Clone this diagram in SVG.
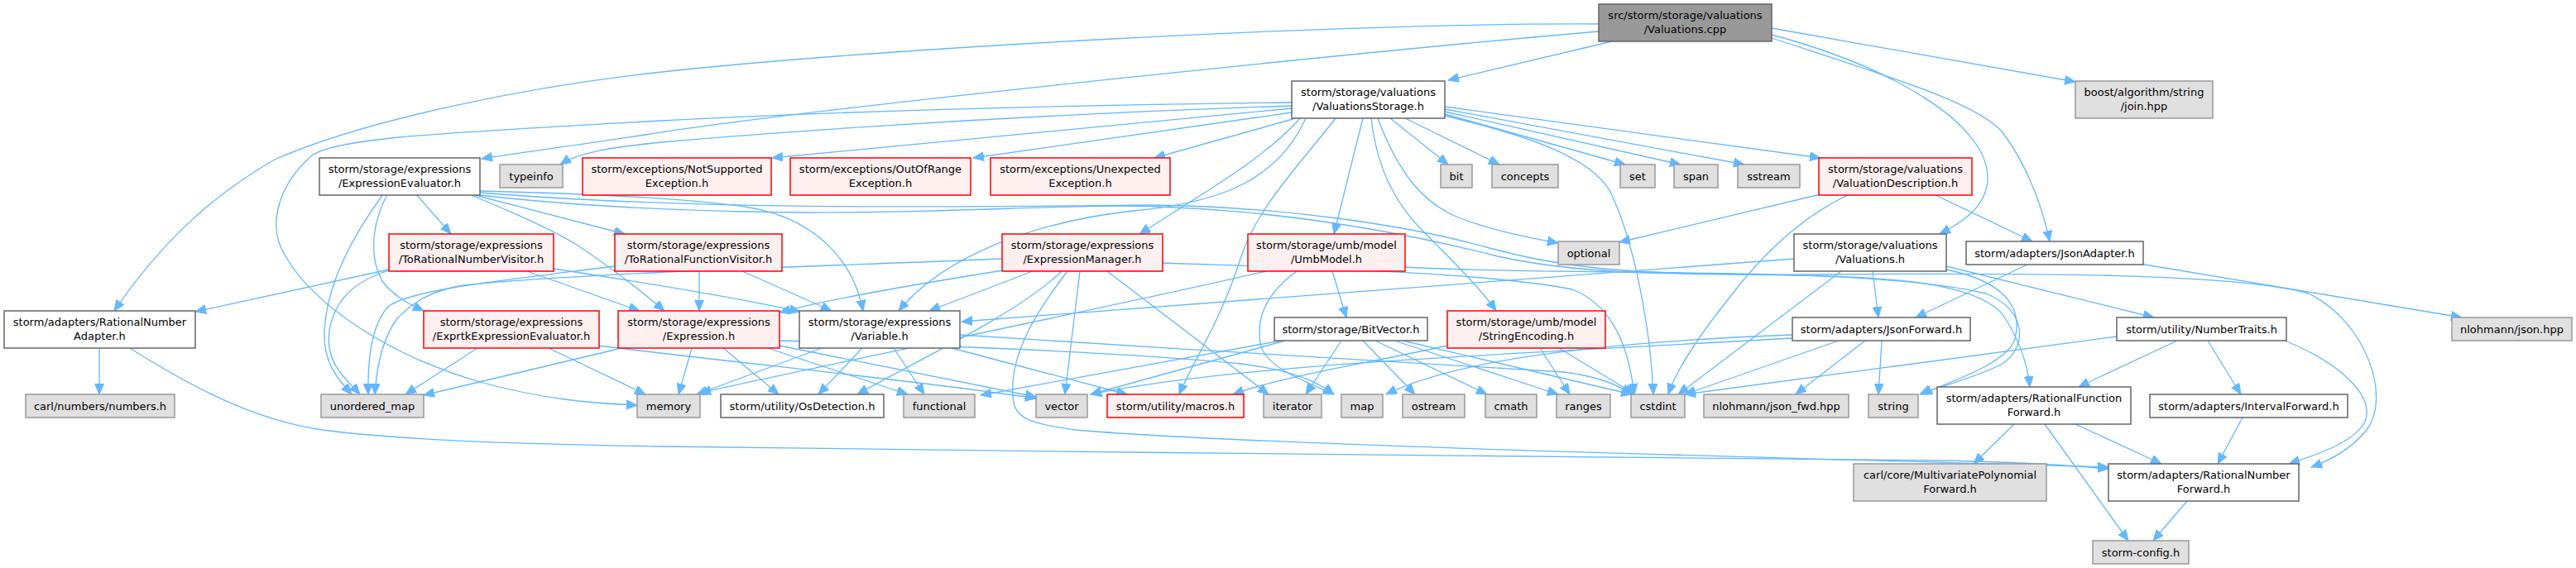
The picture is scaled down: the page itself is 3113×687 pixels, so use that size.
<svg xmlns="http://www.w3.org/2000/svg" width="3113" height="687" viewBox="0 0 3113 687">
<style>
text{font-family:"DejaVu Sans","Liberation Sans",sans-serif;font-size:13px;text-anchor:middle;fill:#000}
.w{fill:#fff;stroke:#666;stroke-width:1.5}
.g{fill:#e0e0e0;stroke:#999;stroke-width:1.5}
.r{fill:#fff0f0;stroke:#f00;stroke-width:1.5}
.m{fill:#999;stroke:#666;stroke-width:1.5}
#edges path{fill:none;stroke:#63b8ff;stroke-width:1.3;marker-end:url(#a)}
</style>
<defs>
<marker id="a" markerUnits="userSpaceOnUse" markerWidth="14" markerHeight="12" refX="13" refY="5.5" orient="auto"><path d="M0,0 L13,5.5 L0,11 z" fill="#63b8ff" stroke="#63b8ff" stroke-width="1"/></marker>
</defs>
<rect width="3113" height="687" fill="#fff"/>
<g id="edges">
<path d="M1948,50 L1750,97"/>
<path d="M1932,29 C1600,28 1050,60 800,87 C640,104 440,145 332,193 C250,240 190,300 138,376"/>
<path d="M1932,38 C1700,58 1000,128 780,163 C690,177 630,184 582,192"/>
<path d="M2141,34 L2508,99"/>
<path d="M2141,42 C2290,82 2400,150 2402,213 C2403,245 2378,266 2344,283"/>
<path d="M2141,46 C2290,95 2390,125 2420,160 C2450,200 2468,250 2477,292"/>
<path d="M1561,124 C1200,128 950,138 780,147 C560,160 410,165 377,188 C340,220 320,270 345,310 C380,370 470,430 580,462 C660,484 720,488 770,490"/>
<path d="M1561,128 C1200,140 900,163 800,172 C740,178 700,184 677,199"/>
<path d="M1561,131 L933,191"/>
<path d="M1561,136 L1176,191"/>
<path d="M1566,143 L1395,191"/>
<path d="M1571,143 C1530,190 1460,230 1377,283"/>
<path d="M1578,143 C1545,215 1480,245 1370,255 C1250,268 1140,310 1086,376"/>
<path d="M1614,143 C1570,200 1520,250 1500,310 C1475,390 1440,440 1425,477"/>
<path d="M1647,143 L1612,283"/>
<path d="M1657,143 C1665,210 1690,250 1720,280 C1760,320 1790,350 1808,376"/>
<path d="M1665,143 C1690,210 1720,245 1760,262 C1800,278 1845,287 1883,294"/>
<path d="M1680,143 L1750,199"/>
<path d="M1698,143 L1812,199"/>
<path d="M1746,138 L1964,199"/>
<path d="M1746,135 L2031,199"/>
<path d="M1746,132 L2108,199"/>
<path d="M1746,129 L2200,191"/>
<path d="M1746,140 C1850,165 1920,190 1945,230 C1975,290 1995,400 1998,477"/>
<path d="M2200,235 L1957,293"/>
<path d="M2235,235 C2170,265 2120,320 2090,360 C2050,410 2025,450 2016,477"/>
<path d="M2337,235 L2456,292"/>
<path d="M463,235 C430,280 395,340 392,400 C390,440 410,460 425,477"/>
<path d="M468,235 C450,270 445,310 462,340 C475,358 495,368 512,376"/>
<path d="M503,235 L545,283"/>
<path d="M567,235 C640,265 680,285 700,298 C740,325 775,352 803,376"/>
<path d="M570,235 L755,283"/>
<path d="M580,231 C700,234 830,240 900,250 C980,262 1030,310 1043,376"/>
<path d="M580,233 C850,255 1150,250 1392,248 C1550,250 1700,272 1800,300 C1880,322 1950,330 2100,332 C2250,334 2380,335 2420,380 C2440,410 2450,440 2453,468"/>
<path d="M580,236 C700,250 850,256 974,257 C1150,258 1300,246 1400,250 C1560,256 1700,282 1810,310 C1900,330 2000,333 2200,332 C2450,330 2700,330 2790,355 C2860,390 2890,480 2860,520 C2840,545 2815,557 2793,565"/>
<path d="M470,326 L236,377"/>
<path d="M470,327 C430,340 405,360 398,400 C392,440 420,460 435,477"/>
<path d="M637,328 L773,376"/>
<path d="M669,325 C780,342 900,362 967,377"/>
<path d="M845,328 L845,376"/>
<path d="M897,328 L1005,376"/>
<path d="M743,322 C600,340 500,350 470,370 C450,390 444,430 445,477"/>
<path d="M1212,327 C1100,345 1000,362 942,378"/>
<path d="M1248,328 L1123,376"/>
<path d="M1211,313 C1000,322 700,330 560,345 C520,352 500,365 480,385 C462,410 455,445 453,477"/>
<path d="M1283,328 C1230,380 1100,440 1036,477"/>
<path d="M1305,328 L1287,477"/>
<path d="M1338,328 L1533,477"/>
<path d="M1290,328 C1250,380 1220,430 1224,480 C1226,505 1240,512 1300,520 C1500,538 2200,555 2548,565"/>
<path d="M1405,318 C1600,325 1800,330 1900,350 C1950,370 1968,420 1975,477"/>
<path d="M1610,328 L1627,384"/>
<path d="M1567,328 C1530,355 1518,385 1523,415 C1528,445 1580,462 1612,477"/>
<path d="M1530,328 C1350,370 1050,430 846,475"/>
<path d="M1698,323 C1900,335 2250,320 2400,355 C2450,375 2450,420 2420,440 C2380,460 2340,468 2320,477"/>
<path d="M2168,313 L1162,389"/>
<path d="M2263,328 L2270,384"/>
<path d="M2225,328 L2028,477"/>
<path d="M2352,322 L2603,384"/>
<path d="M2352,326 C2420,340 2445,370 2435,410 C2425,440 2360,460 2322,477"/>
<path d="M2452,319 L2315,384"/>
<path d="M2586,319 L2975,384"/>
<path d="M120,421 L120,477"/>
<path d="M157,421 C250,480 320,510 390,520 C500,535 700,538 800,540 C1300,548 2000,552 2340,557 C2450,559 2500,563 2548,567"/>
<path d="M577,421 L490,477"/>
<path d="M663,421 L780,477"/>
<path d="M723,418 C900,440 1150,465 1252,482"/>
<path d="M747,422 L512,478"/>
<path d="M836,421 L820,477"/>
<path d="M874,421 L941,477"/>
<path d="M928,421 L1097,477"/>
<path d="M942,418 C1050,440 1180,465 1252,480"/>
<path d="M942,412 C1150,418 1370,427 1500,440 C1560,448 1590,460 1612,477"/>
<path d="M993,421 L842,477"/>
<path d="M1042,421 L989,477"/>
<path d="M1080,421 L1117,477"/>
<path d="M1150,421 L1362,477"/>
<path d="M1160,405 C1400,420 1700,440 1890,450 C1930,455 1955,465 1972,477"/>
<path d="M1621,412 L1578,477"/>
<path d="M1647,412 L1710,477"/>
<path d="M1662,412 L1797,477"/>
<path d="M1685,412 L1883,477"/>
<path d="M1695,412 L1972,477"/>
<path d="M1553,412 L1318,477"/>
<path d="M1548,412 L1185,478"/>
<path d="M1861,421 L1897,477"/>
<path d="M1884,421 L1976,477"/>
<path d="M1749,418 C1650,440 1550,455 1490,477"/>
<path d="M2222,412 L2036,477"/>
<path d="M2254,412 L2170,477"/>
<path d="M2274,412 L2270,477"/>
<path d="M2166,405 C1900,415 1750,440 1675,477"/>
<path d="M2166,409 C1800,430 1500,440 1318,477"/>
<path d="M2631,412 L2512,468"/>
<path d="M2668,412 L2708,477"/>
<path d="M2761,412 C2830,440 2870,480 2858,510 C2845,535 2800,550 2766,561"/>
<path d="M2558,407 L2036,477"/>
<path d="M2710,505 L2680,561"/>
<path d="M2434,513 L2385,561"/>
<path d="M2471,513 L2572,654"/>
<path d="M2508,513 L2612,561"/>
<path d="M2643,606 L2602,654"/>
</g>
<g id="n0"><rect class="m" x="1932" y="5" width="209" height="45"/><text x="2036.5" y="23">src/storm/storage/valuations</text><text x="2036.5" y="40">/Valuations.cpp</text></g>
<g id="n1"><rect class="w" x="1561" y="98" width="185" height="45"/><text x="1653.5" y="116">storm/storage/valuations</text><text x="1653.5" y="133">/ValuationsStorage.h</text></g>
<g id="n2"><rect class="g" x="2508" y="98" width="166" height="45"/><text x="2591" y="116">boost/algorithm/string</text><text x="2591" y="133">/join.hpp</text></g>
<g id="n3"><rect class="w" x="386" y="191" width="194" height="45"/><text x="483" y="209">storm/storage/expressions</text><text x="483" y="226">/ExpressionEvaluator.h</text></g>
<g id="n4"><rect class="g" x="604" y="199" width="76" height="28"/><text x="642" y="217.5">typeinfo</text></g>
<g id="n5"><rect class="r" x="704" y="191" width="228" height="45"/><text x="818" y="209">storm/exceptions/NotSupported</text><text x="818" y="226">Exception.h</text></g>
<g id="n6"><rect class="r" x="955" y="191" width="218" height="45"/><text x="1064" y="209">storm/exceptions/OutOfRange</text><text x="1064" y="226">Exception.h</text></g>
<g id="n7"><rect class="r" x="1197" y="191" width="217" height="45"/><text x="1305.5" y="209">storm/exceptions/Unexpected</text><text x="1305.5" y="226">Exception.h</text></g>
<g id="n8"><rect class="g" x="1741" y="199" width="38" height="28"/><text x="1760" y="217.5">bit</text></g>
<g id="n9"><rect class="g" x="1803" y="199" width="80" height="28"/><text x="1843" y="217.5">concepts</text></g>
<g id="n10"><rect class="g" x="1958" y="199" width="42" height="28"/><text x="1979" y="217.5">set</text></g>
<g id="n11"><rect class="g" x="2023" y="199" width="53" height="28"/><text x="2049.5" y="217.5">span</text></g>
<g id="n12"><rect class="g" x="2100" y="199" width="75" height="28"/><text x="2137.5" y="217.5">sstream</text></g>
<g id="n13"><rect class="r" x="2198" y="191" width="185" height="45"/><text x="2290.5" y="209">storm/storage/valuations</text><text x="2290.5" y="226">/ValuationDescription.h</text></g>
<g id="n14"><rect class="r" x="470" y="283" width="199" height="45"/><text x="569.5" y="301">storm/storage/expressions</text><text x="569.5" y="318">/ToRationalNumberVisitor.h</text></g>
<g id="n15"><rect class="r" x="743" y="283" width="202" height="45"/><text x="844" y="301">storm/storage/expressions</text><text x="844" y="318">/ToRationalFunctionVisitor.h</text></g>
<g id="n16"><rect class="r" x="1211" y="283" width="194" height="45"/><text x="1308" y="301">storm/storage/expressions</text><text x="1308" y="318">/ExpressionManager.h</text></g>
<g id="n17"><rect class="r" x="1508" y="283" width="190" height="45"/><text x="1603" y="301">storm/storage/umb/model</text><text x="1603" y="318">/UmbModel.h</text></g>
<g id="n18"><rect class="g" x="1883" y="292" width="74" height="28"/><text x="1920" y="310.5">optional</text></g>
<g id="n19"><rect class="w" x="2168" y="283" width="184" height="45"/><text x="2260" y="301">storm/storage/valuations</text><text x="2260" y="318">/Valuations.h</text></g>
<g id="n20"><rect class="w" x="2376" y="292" width="214" height="28"/><text x="2483" y="310.5">storm/adapters/JsonAdapter.h</text></g>
<g id="n21"><rect class="w" x="5" y="376" width="231" height="45"/><text x="120.5" y="394">storm/adapters/RationalNumber</text><text x="120.5" y="411">Adapter.h</text></g>
<g id="n22"><rect class="r" x="512" y="376" width="212" height="45"/><text x="618" y="394">storm/storage/expressions</text><text x="618" y="411">/ExprtkExpressionEvaluator.h</text></g>
<g id="n23"><rect class="r" x="747" y="376" width="195" height="45"/><text x="844.5" y="394">storm/storage/expressions</text><text x="844.5" y="411">/Expression.h</text></g>
<g id="n24"><rect class="w" x="966" y="376" width="194" height="45"/><text x="1063" y="394">storm/storage/expressions</text><text x="1063" y="411">/Variable.h</text></g>
<g id="n25"><rect class="w" x="1540" y="384" width="185" height="28"/><text x="1632.5" y="402.5">storm/storage/BitVector.h</text></g>
<g id="n26"><rect class="r" x="1749" y="376" width="191" height="45"/><text x="1844.5" y="394">storm/storage/umb/model</text><text x="1844.5" y="411">/StringEncoding.h</text></g>
<g id="n27"><rect class="w" x="2166" y="384" width="215" height="28"/><text x="2273.5" y="402.5">storm/adapters/JsonForward.h</text></g>
<g id="n28"><rect class="w" x="2558" y="384" width="205" height="28"/><text x="2660.5" y="402.5">storm/utility/NumberTraits.h</text></g>
<g id="n29"><rect class="g" x="2963" y="384" width="145" height="28"/><text x="3035.5" y="402.5">nlohmann/json.hpp</text></g>
<g id="n30"><rect class="g" x="31" y="477" width="180" height="28"/><text x="121" y="495.5">carl/numbers/numbers.h</text></g>
<g id="n31"><rect class="g" x="388" y="477" width="124" height="28"/><text x="450" y="495.5">unordered_map</text></g>
<g id="n32"><rect class="g" x="770" y="477" width="76" height="28"/><text x="808" y="495.5">memory</text></g>
<g id="n33"><rect class="w" x="871" y="477" width="197" height="28"/><text x="969.5" y="495.5">storm/utility/OsDetection.h</text></g>
<g id="n34"><rect class="g" x="1092" y="477" width="86" height="28"/><text x="1135" y="495.5">functional</text></g>
<g id="n35"><rect class="g" x="1252" y="477" width="62" height="28"/><text x="1283" y="495.5">vector</text></g>
<g id="n36"><rect class="r" x="1338" y="477" width="165" height="28"/><text x="1420.5" y="495.5">storm/utility/macros.h</text></g>
<g id="n37"><rect class="g" x="1527" y="477" width="70" height="28"/><text x="1562" y="495.5">iterator</text></g>
<g id="n38"><rect class="g" x="1621" y="477" width="50" height="28"/><text x="1646" y="495.5">map</text></g>
<g id="n39"><rect class="g" x="1695" y="477" width="75" height="28"/><text x="1732.5" y="495.5">ostream</text></g>
<g id="n40"><rect class="g" x="1795" y="477" width="62" height="28"/><text x="1826" y="495.5">cmath</text></g>
<g id="n41"><rect class="g" x="1881" y="477" width="65" height="28"/><text x="1913.5" y="495.5">ranges</text></g>
<g id="n42"><rect class="g" x="1971" y="477" width="65" height="28"/><text x="2003.5" y="495.5">cstdint</text></g>
<g id="n43"><rect class="g" x="2059" y="477" width="175" height="28"/><text x="2146.5" y="495.5">nlohmann/json_fwd.hpp</text></g>
<g id="n44"><rect class="g" x="2258" y="477" width="60" height="28"/><text x="2288" y="495.5">string</text></g>
<g id="n45"><rect class="w" x="2341" y="468" width="234" height="45"/><text x="2458" y="486">storm/adapters/RationalFunction</text><text x="2458" y="503">Forward.h</text></g>
<g id="n46"><rect class="w" x="2598" y="477" width="239" height="28"/><text x="2717.5" y="495.5">storm/adapters/IntervalForward.h</text></g>
<g id="n47"><rect class="g" x="2240" y="561" width="233" height="45"/><text x="2356.5" y="579">carl/core/MultivariatePolynomial</text><text x="2356.5" y="596">Forward.h</text></g>
<g id="n48"><rect class="w" x="2548" y="561" width="230" height="45"/><text x="2663" y="579">storm/adapters/RationalNumber</text><text x="2663" y="596">Forward.h</text></g>
<g id="n49"><rect class="g" x="2529" y="654" width="116" height="28"/><text x="2587" y="672.5">storm-config.h</text></g>
</svg>
